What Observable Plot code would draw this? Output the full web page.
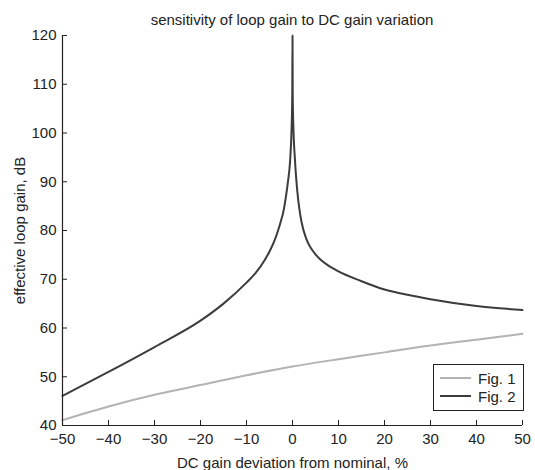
<!DOCTYPE html>
<html>
<head>
<meta charset="utf-8">
<script src="https://cdn.jsdelivr.net/npm/d3@7"></script>
<script src="https://cdn.jsdelivr.net/npm/@observablehq/plot@0.6"></script>
<style>
  html, body { margin: 0; padding: 0; background: #fff; }
  #wrap { position: relative; width: 535px; height: 470px; font-family: "Liberation Sans", Arial, sans-serif; color: #222; }
  #title { position: absolute; left: 62px; width: 460px; top: 11px; text-align: center; font-size: 15px; line-height: 18px; z-index: 2; }
  #chart { position: absolute; left: 0; top: 14px; z-index: 1; }
  #legend { position: absolute; left: 433px; top: 364px; width: 91px; height: 47px; border: 1px solid #222; background: #fff; font-size: 15px; box-sizing: border-box; z-index: 3; }
  .row { position: absolute; left: 6px; height: 18px; display: flex; align-items: center; }
  .sw { width: 31px; height: 0; border-top: 2px solid; margin-right: 7px; }
</style>
</head>
<body>
<div id="wrap">
  <div id="title">sensitivity of loop gain to DC gain variation</div>
  <div id="chart"></div>
  <div id="legend"></div>
</div>
<script>
const seriesNames = ["Fig. 1", "Fig. 2"];
const seriesColors = ["#b3b3b3", "#3c3c3c"];

const fig1X = [-50, -40, -30, -20, -10, 0, 10, 20, 30, 40, 50];
const fig1Y = [41.1, 43.9, 46.3, 48.3, 50.3, 52.1, 53.6, 55.0, 56.4, 57.6, 58.8];

const fig2X = [-50, -40, -30, -20, -15, -10, -8, -6, -5, -4, -3, -2.5, -2, -1.5, -1, -0.5, -0.2, -0.05, 0, 0.05, 0.2, 0.5, 1, 1.5, 2, 3, 4, 5, 6, 7.5, 10, 15, 20, 25, 30, 40, 50];
const fig2Y = [46.1, 51.0, 56.1, 61.5, 65.0, 69.3, 71.3, 74.0, 75.7, 77.7, 80.4, 82.0, 83.8, 86.5, 89.9, 94.6, 101, 108, 120, 108, 101, 95, 88.5, 84.4, 81.6, 78.3, 76.4, 75.1, 74.1, 73.0, 71.6, 69.6, 67.9, 66.8, 65.9, 64.5, 63.7];

const xTicks = [-50, -40, -30, -20, -10, 0, 10, 20, 30, 40, 50];
const yTicks = [40, 50, 60, 70, 80, 90, 100, 110, 120];

const data1 = fig1X.map((x, i) => ({x, y: fig1Y[i], s: seriesNames[0]}));
const data2 = fig2X.map((x, i) => ({x, y: fig2Y[i], s: seriesNames[1]}));

const chart = Plot.plot({
  width: 535,
  height: 456,
  marginLeft: 62,
  marginRight: 13,
  marginTop: 21,
  marginBottom: 45,
  style: {fontFamily: "'Liberation Sans', Arial, sans-serif", fontSize: "15px", color: "#222", background: "transparent"},
  x: {domain: [-50, 50]},
  y: {domain: [40, 120]},
  marks: [
    Plot.line(data1, {x: "x", y: "y", stroke: seriesColors[0], strokeWidth: 2, curve: "monotone-x"}),
    Plot.line(data2, {x: "x", y: "y", stroke: seriesColors[1], strokeWidth: 2, curve: "monotone-x"}),
    Plot.ruleX([-50], {stroke: "#222", strokeWidth: 1.2}),
    Plot.ruleY([40], {stroke: "#222", strokeWidth: 1.2}),
    Plot.axisX(xTicks, {tickSize: -5, tickPadding: 13, stroke: "#222", label: "DC gain deviation from nominal, %", labelAnchor: "center", labelArrow: "none", labelOffset: 42, fontSize: 15}),
    Plot.axisY(yTicks, {tickSize: -5, tickPadding: 11, stroke: "#222", label: "effective loop gain, dB", labelAnchor: "center", labelArrow: "none", labelOffset: 48, fontSize: 15})
  ]
});
document.getElementById("chart").appendChild(chart);

const legend = document.getElementById("legend");
seriesNames.forEach((name, i) => {
  const row = document.createElement("div");
  row.className = "row";
  row.style.top = (4 + i * 18) + "px";
  const sw = document.createElement("div");
  sw.className = "sw";
  sw.style.borderTopColor = seriesColors[i];
  const t = document.createElement("span");
  t.textContent = name;
  row.appendChild(sw);
  row.appendChild(t);
  legend.appendChild(row);
});
</script>
</body>
</html>
